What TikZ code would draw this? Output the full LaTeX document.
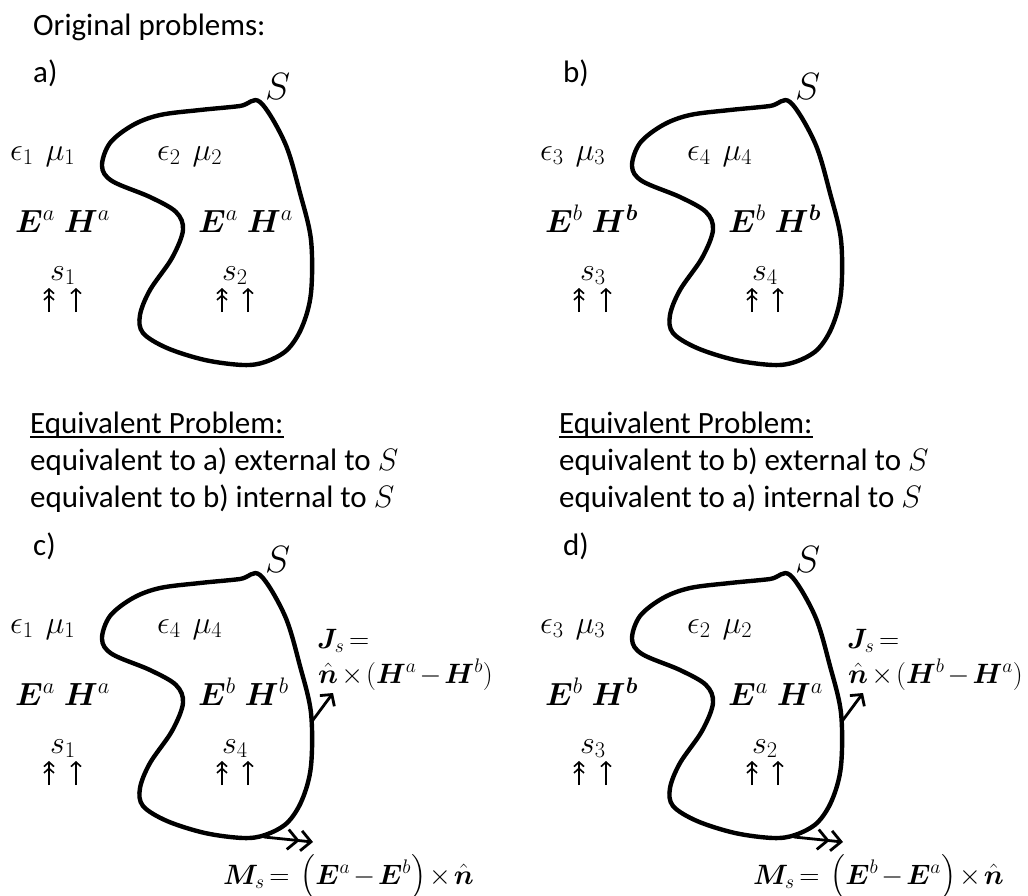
\documentclass[tikz,border=0pt]{standalone}
\usepackage{fix-cm}
\usepackage{amsmath}
\usepackage{bm}
\usepackage{fontspec}
\setmainfont{Carlito}
\usetikzlibrary{arrows.meta}

\newcommand{\gp}{\hspace{12pt}}
\newcommand{\gq}{\hspace{9pt}}
\newcommand{\eqfont}{\fontsize{28}{34}\selectfont\medmuskip=2mu\thickmuskip=3mu\relax}
% #1 prefix, #2 label, #3 outer eps/mu, #4 inner eps/mu, #5 outer fields, #6 inner fields, #7 outer source, #8 inner source
\newcommand{\Panel}[8]{%
  \node[txt] (#1lab) at (33,82) {#2};
  \node[bigS] (#1S) at (265,99) {$S$};
  \draw[surf] plot[smooth cycle, tension=0.55] coordinates {
    (260,102) (285,143) (300,193) (311,240) (311,293) (302,327) (287,350)
    (265,362) (243,365) (205,360) (167,348) (143,333) (140,315) (150,290)
    (172,258) (183,230) (176,212) (150,197) (112,181) (102,166) (110,143)
    (133,125) (160,115) (200,110) (240,106)};
  \node[mth] (#1mo) at (10,160) {$#3$};
  \node[mth] (#1mi) at (157,160) {$#4$};
  \node[mth] (#1fo) at (15,232) {$#5$};
  \node[mth] (#1fi) at (198,232) {$#6$};
  \node[mth] (#1so) at (50,280) {$#7$};
  \node[mth] (#1si) at (222,280) {$#8$};
  \coordinate (#1oab) at (49,312); \coordinate (#1oat) at (49,288);
  \coordinate (#1obb) at (76,312); \coordinate (#1obt) at (76,288);
  \coordinate (#1iab) at (222,312); \coordinate (#1iat) at (222,288);
  \coordinate (#1ibb) at (248,312); \coordinate (#1ibt) at (248,288);
  \draw[srcline, dbl] (#1oab) -- (#1oat);
  \draw[srcline, sgl] (#1obb) -- (#1obt);
  \draw[srcline, dbl] (#1iab) -- (#1iat);
  \draw[srcline, sgl] (#1ibb) -- (#1ibt);
}

\begin{document}
\begin{tikzpicture}[x=1pt,y=-1pt,
  txt/.style={font=\fontsize{31}{37}\selectfont, inner sep=0pt, anchor=base west},
  mth/.style={font=\fontsize{32}{38}\selectfont, inner sep=0pt, anchor=base west},
  eqn/.style={font=\eqfont, inner sep=0pt, anchor=base west},
  bigS/.style={font=\fontsize{38}{44}\selectfont, inner sep=0pt, anchor=base west},
  surf/.style={line width=4.4pt, line join=round},
  srcline/.style={line width=1.6pt},
  dbl/.style={-{Straight Barb[length=4.5pt,width=10pt]Straight Barb[length=4.5pt,width=10pt]}},
  sgl/.style={-{Straight Barb[length=4.5pt,width=10pt]}},
  jarr/.style={line width=2.8pt, line cap=round, -{Straight Barb[length=8pt,width=18pt]}},
  marr/.style={line width=2.8pt, line cap=round, -{Straight Barb[length=10pt,width=20pt]Straight Barb[length=10pt,width=20pt]}},
  uline/.style={line width=1.8pt}
]
\useasboundingbox (0,0) rectangle (1028,895);

\node[txt] (title) at (33,35) {Original problems:};

% panel a
\begin{scope}
\Panel{a}{a)}{\epsilon_1\gp\mu_1}{\epsilon_2\gp\mu_2}{\bm{E}^{a}\gq\bm{H}^{a}}{\bm{E}^{a}\gq\bm{H}^{a}}{s_1}{s_2}
\end{scope}
% panel b
\begin{scope}[shift={(530,0)}]
\Panel{b}{b)}{\epsilon_3\gp\mu_3}{\epsilon_4\gp\mu_4}{\bm{E}^{b}\gq\bm{H}^{\bm{b}}}{\bm{E}^{b}\gq\bm{H}^{\bm{b}}}{s_3}{s_4}
\end{scope}

% equivalent problem texts
\node[txt] (eqL) at (30,433) {Equivalent Problem:};
\draw[uline] ([yshift=-4pt]eqL.base west) -- ([yshift=-4pt]eqL.base east);
\node[txt] (eqL1) at (30,470) {equivalent to a) external to $S$};
\node[txt] (eqL2) at (30,507) {equivalent to b) internal to $S$};
\node[txt] (eqR) at (559,433) {Equivalent Problem:};
\draw[uline] ([yshift=-4pt]eqR.base west) -- ([yshift=-4pt]eqR.base east);
\node[txt] (eqR1) at (559,470) {equivalent to b) external to $S$};
\node[txt] (eqR2) at (559,507) {equivalent to a) internal to $S$};

% panel c
\begin{scope}[shift={(0,473)}]
\Panel{c}{c)}{\epsilon_1\gp\mu_1}{\epsilon_4\gp\mu_4}{\bm{E}^{a}\gq\bm{H}^{a}}{\bm{E}^{b}\gq\bm{H}^{b}}{s_1}{s_4}
\coordinate (cJb) at (313,247); \coordinate (cJt) at (333,220);
\draw[jarr] (cJb) -- (cJt);
\coordinate (cMb) at (264,364); \coordinate (cMt) at (313,369);
\draw[marr] (cMb) -- (cMt);
\node[eqn] (cJ1) at (317,175) {$\bm{J}_s =$};
\node[eqn] (cJ2) at (318,210) {$\hat{\bm{n}}\times(\bm{H}^{a}-\bm{H}^{b})$};
\node[eqn] (cM) at (223,411) {$\bm{M}_s =\ \bigl(\bm{E}^{a}-\bm{E}^{b}\bigr)\times\hat{\bm{n}}$};
\end{scope}

% panel d
\begin{scope}[shift={(530,473)}]
\Panel{d}{d)}{\epsilon_3\gp\mu_3}{\epsilon_2\gp\mu_2}{\bm{E}^{b}\gq\bm{H}^{\bm{b}}}{\bm{E}^{a}\gq\bm{H}^{a}}{s_3}{s_2}
\coordinate (dJb) at (313,247); \coordinate (dJt) at (333,220);
\draw[jarr] (dJb) -- (dJt);
\coordinate (dMb) at (264,364); \coordinate (dMt) at (313,369);
\draw[marr] (dMb) -- (dMt);
\node[eqn] (dJ1) at (317,175) {$\bm{J}_s =$};
\node[eqn] (dJ2) at (318,210) {$\hat{\bm{n}}\times(\bm{H}^{b}-\bm{H}^{a})$};
\node[eqn] (dM) at (223,411) {$\bm{M}_s =\ \bigl(\bm{E}^{b}-\bm{E}^{a}\bigr)\times\hat{\bm{n}}$};
\end{scope}
\end{tikzpicture}
\end{document}
